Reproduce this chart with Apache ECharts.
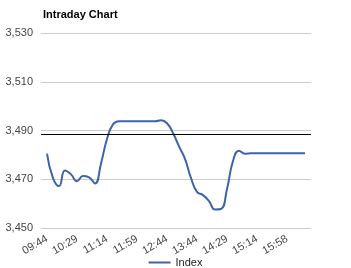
<!DOCTYPE html>
<html>
<head>
<meta charset="utf-8">
<script src="https://cdn.jsdelivr.net/npm/echarts@6/dist/echarts.min.js"></script>
<style>html,body{margin:0;padding:0;background:#fff}#c{width:351px;height:268px}</style>
</head>
<body>
<div id="c"></div>
<script>
var times = ['09:44','09:53','10:02','10:11','10:20','10:29','10:38','10:47','10:56','11:05',
  '11:14','11:23','11:32','11:41','11:50','11:59','12:08','12:17','12:26','12:35',
  '12:44','12:56','13:08','13:20','13:32','13:44','13:53','14:02','14:11','14:20',
  '14:29','14:38','14:47','14:56','15:05','15:14','15:23','15:32','15:41','15:50',
  '15:58','16:07','16:16','16:25'];
var indexValues = [3480.5,3470.5,3467.2,3473.6,3472,3469.2,3471.3,3470.8,3468.3,3476.5,
  3486.5,3492.5,3493.8,3493.8,3493.8,3493.8,3493.8,3493.8,3493.8,3494.2,
  3493,3489,3483.5,3478.4,3470.5,3464.8,3463.5,3461,3457.6,3457.8,
  3466,3477.5,3481.7,3480.5,3480.7,3480.7,3480.7,3480.7,3480.7,3480.7,
  3480.7,3480.7,3480.7,3480.7];
var labelTimes = ['09:44','10:29','11:14','11:59','12:44','13:44','14:29','15:14','15:58'];
var referenceLevel = 3488.4;
var yTicks = [3450,3470,3490,3510,3530];

var cats = [''].concat(times).concat(['']);
var vals = [null].concat(indexValues).concat([null]);

var chart = echarts.init(document.getElementById('c'));
chart.setOption({
  animation: false,
  title: {text: 'Intraday Chart', left: 38, top: 4,
    textStyle: {fontFamily: 'Liberation Sans, Arial', fontSize: 11, fontWeight: 'bold', color: '#000'}},
  grid: {left: 41, right: 40, top: 33, bottom: 40, containLabel: false},
  legend: {top: 257, left: 'center', padding: 0, icon: 'rect', itemWidth: 22, itemHeight: 2, itemGap: 6,
    textStyle: {fontFamily: 'Liberation Sans, Arial', fontSize: 11, color: '#222'},
    data: ['Index']},
  xAxis: {type: 'category', data: cats, boundaryGap: false,
    axisLine: {show: false}, axisTick: {show: false}, splitLine: {show: false},
    axisLabel: {rotate: 30, fontFamily: 'Liberation Sans, Arial', fontSize: 11, color: '#444', margin: 10,
      interval: function(i, v){ return labelTimes.indexOf(v) >= 0; }}},
  yAxis: {type: 'value', min: yTicks[0], max: yTicks[yTicks.length-1], interval: 20,
    axisLine: {show: false}, axisTick: {show: false},
    splitLine: {lineStyle: {color: '#cccccc', width: 1}},
    axisLabel: {fontFamily: 'Liberation Sans, Arial', fontSize: 11, color: '#444', margin: 8,
      formatter: function(v){ return v.toLocaleString('en-US'); }}},
  series: [{name: 'Index', type: 'line', data: vals, smooth: 0.5, showSymbol: false, symbol: 'none',
    connectNulls: false,
    lineStyle: {color: '#3e64a6', width: 2}, itemStyle: {color: '#3e64a6'},
    markLine: {silent: true, symbol: 'none', label: {show: false},
      lineStyle: {color: '#000', width: 1, type: 'solid'},
      data: [{yAxis: referenceLevel}]}}]
});
</script>
</body>
</html>
